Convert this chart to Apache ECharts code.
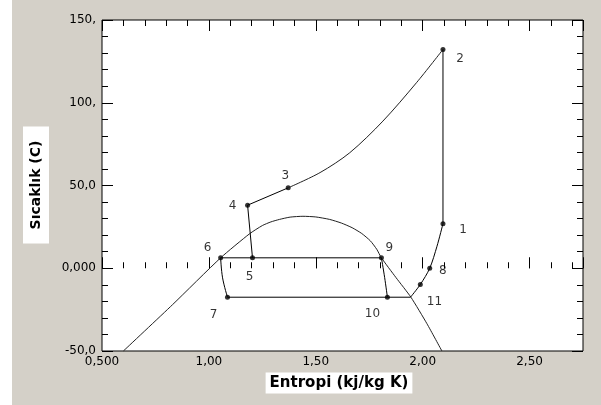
<!DOCTYPE html>
<html lang="tr">
<head>
<meta charset="utf-8">
<title>T-s diyagramı</title>
<script src="https://cdn.jsdelivr.net/npm/echarts@6.0.0/dist/echarts.min.js"></script>
<style>
  html, body { margin: 0; padding: 0; background: #fff; }
  #main { width: 601px; height: 405px; }
</style>
</head>
<body>
<div id="main"></div>
<script type="text/javascript">
    // tick labels
    var xLabelValues = [0.5, 1.0, 1.5, 2.0, 2.5];
    var xLabelTexts = ['0,500', '1,00', '1,50', '2,00', '2,50'];
    var yLabelValues = [-50, 0, 50, 100, 150];
    var yLabelTexts = ['-50,0', '0,000', '50,0', '100,', '150,'];

    // saturation dome
    var domeS = [0.60, 0.83, 1.055, 1.19, 1.25, 1.29, 1.33, 1.38, 1.44, 1.50, 1.565, 1.62, 1.67, 1.715, 1.755, 1.785, 1.807, 1.875, 1.945, 2.02, 2.09];
    var domeT = [-50, -22, 6.3, 20.8, 25.8, 28.0, 29.5, 30.9, 31.4, 31.0, 29.5, 27.3, 24.5, 21.0, 16.6, 11.5, 6.3, -5.6, -17.5, -33.5, -50];

    // state points of the cycle ('' = unlabelled point)
    var stateNames = ['1', '2', '3', '4', '5', '6', '7', '8', '', '9', '10', '11'];
    var stateS = [2.095, 2.095, 1.371, 1.181, 1.204, 1.055, 1.087, 2.033, 1.989, 1.807, 1.835, 1.943];
    var stateT = [26.9, 132.2, 48.6, 38.1, 6.3, 6.3, -17.5, 0.0, -9.8, 6.3, -17.5, -17.5];

    // compression curve between 3 and 2
    var compS = [1.52, 1.659, 1.814, 1.971];
    var compT = [57.8, 69.8, 88.9, 112.1];
    // bends of the curved pieces
    var superS = [2.067], superT = [13.3];   // 1 -> 8
    var bend67 = [1.064, -5.8];
    var bend910 = [1.822, -5.5];

    function pt(name) {
        var i = stateNames.indexOf(name);
        return [stateS[i], stateT[i]];
    }
    function zip(a, b) {
        return a.map(function (v, i) { return [v, b[i]]; });
    }

    var compPath = [].concat([pt('3')], zip(compS, compT), [pt('2')]);
    var superPath = [].concat([pt('1')], zip(superS, superT), [pt('8'), pt(''), pt('11')]);
    var straightPath = [pt('3'), pt('4'), pt('5'), pt('9'), '-', pt('2'), pt('1'), '-',
        pt('11'), pt('10'), pt('7'), '-', pt('6'), pt('5')];
    var bendPath = [pt('7'), bend67, pt('6'), '-', pt('9'), bend910, pt('10')];

    // label offsets (px) around each state point
    var labelOffsets = {
        '1': [20, 6], '2': [17, 9], '3': [-3, -12], '4': [-15, 1], '5': [-3, 19], '6': [-13, -10],
        '7': [-14, 18], '8': [13, 3], '9': [8, -10], '10': [-15, 17], '11': [24, 5], '': [0, 0]
    };

    var statePoints = stateNames.map(function (n, i) {
        return {
            name: n,
            value: [stateS[i], stateT[i]],
            symbolSize: n === '11' ? 0.01 : 5,
            label: { offset: labelOffsets[n] }
        };
    });

    function fmt(values, texts) {
        return function (v) {
            for (var i = 0; i < values.length; i++) {
                if (Math.abs(values[i] - v) < 1e-6) return texts[i];
            }
            return '';
        };
    }

    var tickFont = { fontFamily: 'DejaVu Sans', fontSize: 12, color: '#000' };

    function xAxis(pos, interval, len, labels) {
        return {
            type: 'value', position: pos, min: 0.5, max: 2.75, interval: interval,
            axisLine: { show: false },
            axisTick: { inside: true, length: len, lineStyle: { color: '#000' } },
            axisLabel: labels ? Object.assign({ margin: 5, formatter: fmt(xLabelValues, xLabelTexts) }, tickFont) : { show: false },
            splitLine: { show: false }
        };
    }
    function yAxis(pos, labels) {
        return {
            type: 'value', position: pos, min: -50, max: 150, interval: 50,
            axisLine: { show: false },
            axisTick: { inside: true, length: 11, lineStyle: { color: '#000' } },
            minorTick: { show: true, splitNumber: 5, length: 6, lineStyle: { color: '#000' } },
            axisLabel: labels ? Object.assign({ margin: 6, formatter: fmt(yLabelValues, yLabelTexts) }, tickFont) : { show: false },
            splitLine: { show: false }
        };
    }

    function line(name, data, smooth, color) {
        return {
            type: 'line', name: name, data: data, smooth: smooth, connectNulls: false,
            showSymbol: false, silent: true,
            lineStyle: { color: color, width: 1 }
        };
    }

    var myChart = echarts.init(document.getElementById('main'));
    var option = {
        backgroundColor: '#d4d0c8',
        animation: false,
        grid: {
            left: 102, top: 20, right: 18, bottom: 54,
            show: true, backgroundColor: '#fff', borderColor: '#000', borderWidth: 1,
            outerBoundsMode: 'none'
        },
        xAxis: [
            xAxis('bottom', 0.1, 6, true),
            xAxis('bottom', 0.5, 11, false),
            xAxis('top', 0.1, 6, false),
            xAxis('top', 0.5, 11, false)
        ],
        yAxis: [yAxis('left', true), yAxis('right', false)],
        graphic: [
            { type: 'rect', shape: { x: 0, y: 0, width: 12, height: 405 }, style: { fill: '#fff' } },
            {
                type: 'text', x: 36, y: 185, rotation: Math.PI / 2,
                style: {
                    text: 'Sıcaklık (C)', font: 'bold 14px "DejaVu Sans"', fill: '#000',
                    align: 'center', verticalAlign: 'middle', backgroundColor: '#fff', padding: [6, 14]
                }
            },
            {
                type: 'text', x: 339, y: 383,
                style: {
                    text: 'Entropi (kj/kg K)', font: 'bold 15px "DejaVu Sans"', fill: '#000',
                    align: 'center', verticalAlign: 'middle', backgroundColor: '#fff', padding: [3, 4]
                }
            }
        ],
        series: [
            line('dome', zip(domeS, domeT), 0.2, '#222'),
            line('compression', compPath, 0.3, '#222'),
            line('superheat', superPath, 0.3, '#000'),
            line('cycle', straightPath, false, '#000'),
            line('bends', bendPath, 0.4, '#000'),
            {
                type: 'scatter', name: 'states', data: statePoints,
                itemStyle: { color: '#000' },
                label: {
                    show: true, position: 'inside', formatter: '{b}', color: '#000',
                    fontFamily: 'DejaVu Sans', fontSize: 12
                }
            }
        ]
    };
    myChart.setOption(option);
</script>
</body>
</html>
